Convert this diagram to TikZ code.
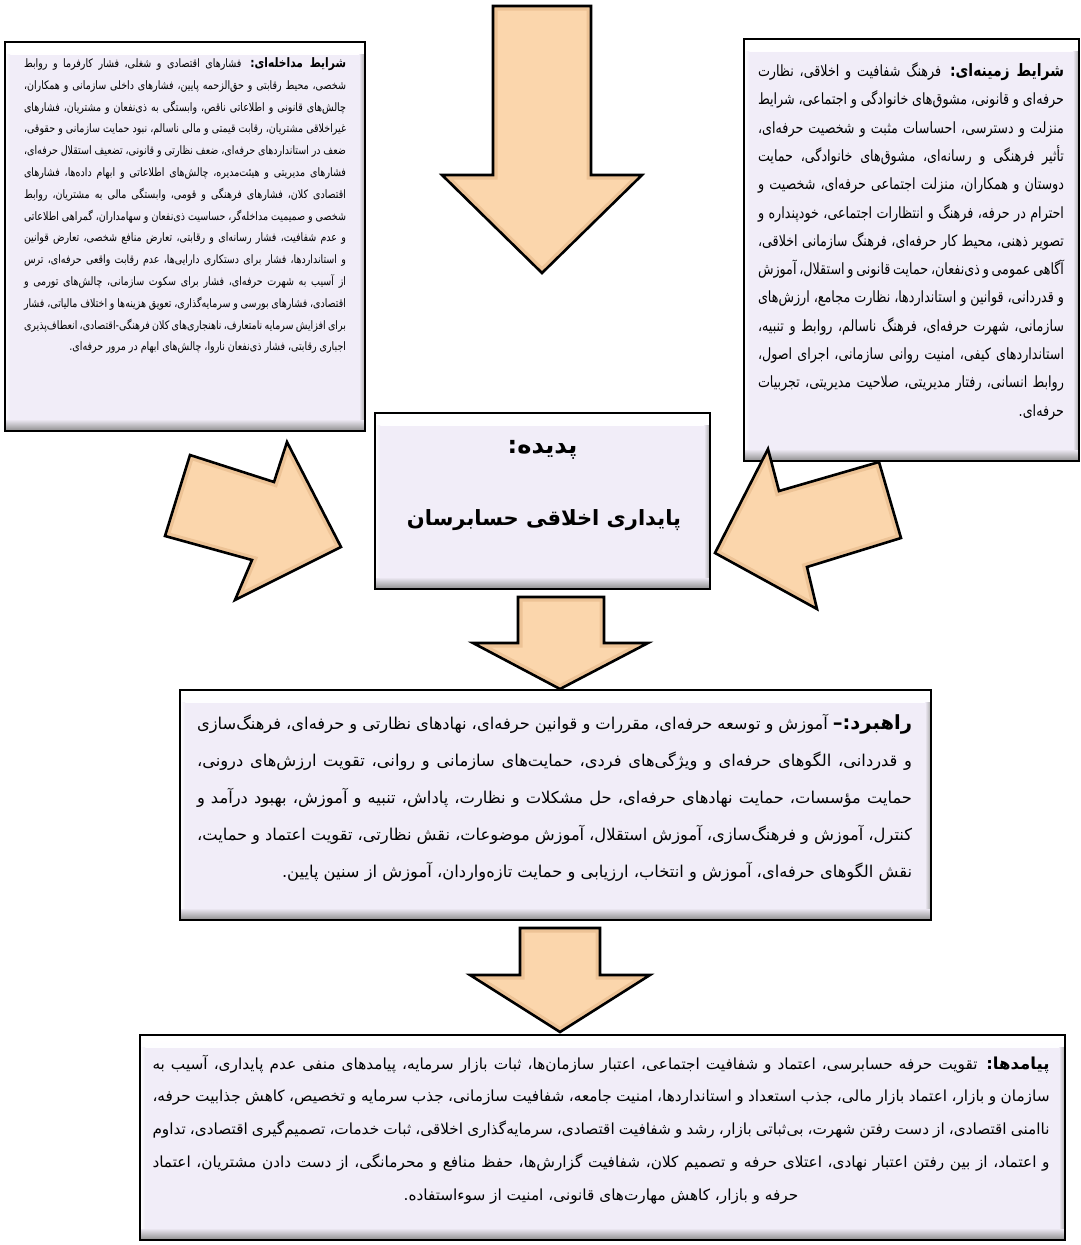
\documentclass[tikz,border=0pt]{standalone}
\usepackage{fontspec}
\newfontfamily\fa[Script=Arabic]{DejaVu Sans}
\newfontfamily\facomp[Script=Arabic, FakeStretch=0.82]{DejaVu Sans}
\TeXXeTstate=1
\definecolor{boxfill}{RGB}{241,237,248}
\definecolor{arrowfill}{RGB}{251,214,172}
\definecolor{arrowedge}{RGB}{226,180,132}
\newcommand\blockarrowpath[1]{%
  \fill[arrowfill] #1;
  \begin{scope}\clip #1; \draw[arrowedge, line width=9pt, opacity=0.55] #1; \end{scope}
  \draw[blockarrow] #1;}
\tikzset{
  panel/.style={draw=black, line width=2.8pt, fill=boxfill, inner sep=0pt, path picture={
      \fill[top color=white, bottom color=boxfill] (path picture bounding box.north west) rectangle ([yshift=-12pt]path picture bounding box.north east);
      \fill[top color=boxfill, bottom color=black!45] ([yshift=12pt]path picture bounding box.south west) rectangle (path picture bounding box.south east);
      \fill[left color=boxfill, right color=black!35] ([xshift=-6pt,yshift=-12pt]path picture bounding box.north east) rectangle ([yshift=12pt]path picture bounding box.south east);
      \fill[left color=white, right color=boxfill] ([yshift=-12pt]path picture bounding box.north west) rectangle ([xshift=5pt,yshift=12pt]path picture bounding box.south west);
  }},
  blockarrow/.style={draw=black, line width=2.6pt, line join=miter},
  body/.style={inner sep=0pt, align=justify, anchor=north}
}
\begin{document}
\begin{tikzpicture}[x=1pt, y=-1pt]
\useasboundingbox (0,0) rectangle (1081,1245);
% boxes
\node[panel, minimum width=360pt, minimum height=389pt] (leftbox) at (185,236.5) {};
\node[panel, minimum width=335pt, minimum height=422pt] (rightbox) at (911.5,250) {};
\node[panel, minimum width=335pt, minimum height=176pt] (centerbox) at (542.5,501) {};
\node[panel, minimum width=751pt, minimum height=230pt] (strategybox) at (555.5,805) {};
\node[panel, minimum width=925pt, minimum height=205pt] (outcomebox) at (602.5,1137.5) {};
% texts
\node[body, text width=322pt] (lefttext) at (185,57.5) {\facomp\fontsize{11.6}{21.8}\selectfont\leavevmode\beginR{\fontsize{13}{21.8}\selectfont\textbf{شرایط مداخله‌ای:}} فشارهای اقتصادی و شغلی، فشار کارفرما و روابط شخصی، محیط رقابتی و حق‌الزحمه پایین، فشارهای داخلی سازمانی و همکاران، چالش‌های قانونی و اطلاعاتی ناقص، وابستگی به ذی‌نفعان و مشتریان، فشارهای غیراخلاقی مشتریان، رقابت قیمتی و مالی ناسالم، نبود حمایت سازمانی و حقوقی، ضعف در استانداردهای حرفه‌ای، ضعف نظارتی و قانونی، تضعیف استقلال حرفه‌ای، فشارهای مدیریتی و هیئت‌مدیره، چالش‌های اطلاعاتی و ابهام داده‌ها، فشارهای اقتصادی کلان، فشارهای فرهنگی و قومی، وابستگی مالی به مشتریان، روابط شخصی و صمیمیت مداخله‌گر، حساسیت ذی‌نفعان و سهامداران، گمراهی اطلاعاتی و عدم شفافیت، فشار رسانه‌ای و رقابتی، تعارض منافع شخصی، تعارض قوانین و استانداردها، فشار برای دستکاری دارایی‌ها، عدم رقابت واقعی حرفه‌ای، ترس از آسیب به شهرت حرفه‌ای، فشار برای سکوت سازمانی، چالش‌های تورمی و اقتصادی، فشارهای بورسی و سرمایه‌گذاری، تعویق هزینه‌ها و اختلاف مالیاتی، فشار برای افزایش سرمایه نامتعارف، ناهنجاری‌های کلان فرهنگی-اقتصادی، انعطاف‌پذیری اجباری رقابتی، فشار ذی‌نفعان ناروا، چالش‌های ابهام در مرور حرفه‌ای.\par};
\node[body, text width=306pt] (righttext) at (911,62.5) {\facomp\fontsize{15.5}{28.3}\selectfont\leavevmode\beginR{\fontsize{17}{28.3}\selectfont\textbf{شرایط زمینه‌ای:}} فرهنگ شفافیت و اخلاقی، نظارت حرفه‌ای و قانونی، مشوق‌های خانوادگی و اجتماعی، شرایط منزلت و دسترسی، احساسات مثبت و شخصیت حرفه‌ای، تأثیر فرهنگی و رسانه‌ای، مشوق‌های خانوادگی، حمایت دوستان و همکاران، منزلت اجتماعی حرفه‌ای، شخصیت و احترام در حرفه، فرهنگ و انتظارات اجتماعی، خودپنداره و تصویر ذهنی، محیط کار حرفه‌ای، فرهنگ سازمانی اخلاقی، آگاهی عمومی و ذی‌نفعان، حمایت قانونی و استقلال، آموزش و قدردانی، قوانین و استانداردها، نظارت مجامع، ارزش‌های سازمانی، شهرت حرفه‌ای، فرهنگ ناسالم، روابط و تنبیه، استانداردهای کیفی، امنیت روانی سازمانی، اجرای اصول، روابط انسانی، رفتار مدیریتی، صلاحیت مدیریتی، تجربیات حرفه‌ای.\par};
\node[font={\fa\bfseries\fontsize{24}{28}\selectfont}] (phtitle) at (542.5,450) {\beginR پدیده:\endR};
\node[font={\fa\bfseries\fontsize{21}{26}\selectfont}] (phname) at (544,520) {\beginR پایداری اخلاقی حسابرسان\endR};
\node[body, text width=715pt] (strategytext) at (554.5,713.5) {\fa\fontsize{16.3}{37}\selectfont\leavevmode\beginR{\fontsize{19.5}{37}\selectfont\textbf{راهبرد:–}} آموزش و توسعه حرفه‌ای، مقررات و قوانین حرفه‌ای، نهادهای نظارتی و حرفه‌ای، فرهنگ‌سازی و قدردانی، الگوهای حرفه‌ای و ویژگی‌های فردی، حمایت‌های سازمانی و روانی، تقویت ارزش‌های درونی، حمایت مؤسسات، حمایت نهادهای حرفه‌ای، حل مشکلات و نظارت، پاداش، تنبیه و آموزش، بهبود درآمد و کنترل، آموزش و فرهنگ‌سازی، آموزش استقلال، آموزش موضوعات، نقش نظارتی، تقویت اعتماد و حمایت، نقش الگوهای حرفه‌ای، آموزش و انتخاب، ارزیابی و حمایت تازه‌واردان، آموزش از سنین پایین.\par};
\node[body, text width=897pt] (outcometext) at (601,1054.5) {\fa\fontsize{15.3}{32.75}\selectfont\leftskip=0pt plus 1fil\rightskip=0pt plus -1fil\parfillskip=0pt plus 2fil\leavevmode\beginR{\fontsize{16.5}{32.75}\selectfont\textbf{پیامدها:}} تقویت حرفه حسابرسی، اعتماد و شفافیت اجتماعی، اعتبار سازمان‌ها، ثبات بازار سرمایه، پیامدهای منفی عدم پایداری، آسیب به سازمان و بازار، اعتماد بازار مالی، جذب استعداد و استانداردها، امنیت جامعه، شفافیت سازمانی، جذب سرمایه و تخصیص، کاهش جذابیت حرفه، ناامنی اقتصادی، از دست رفتن شهرت، بی‌ثباتی بازار، رشد و شفافیت اقتصادی، سرمایه‌گذاری اخلاقی، ثبات خدمات، تصمیم‌گیری اقتصادی، تداوم و اعتماد، از بین رفتن اعتبار نهادی، اعتلای حرفه و تصمیم کلان، شفافیت گزارش‌ها، حفظ منافع و محرمانگی، از دست دادن مشتریان، اعتماد حرفه و بازار، کاهش مهارت‌های قانونی، امنیت از سوءاستفاده.\endR\par};
% block arrows
\blockarrowpath{(493,6) -- (591,6) -- (591,175) -- (642,175) -- (542,273) -- (442,175) -- (493,175) -- cycle}
\blockarrowpath{(190,455) -- (274,482) -- (287,442) -- (341,547) -- (235,600) -- (252,560) -- (165,536) -- cycle}
\blockarrowpath{(879,462) -- (779,491) -- (768,449) -- (715,553) -- (817,609) -- (807,567) -- (901,538) -- cycle}
\blockarrowpath{(518,597) -- (604,597) -- (604,643) -- (648,643) -- (560,689) -- (473,643) -- (518,643) -- cycle}
\blockarrowpath{(520,928) -- (600,928) -- (600,975) -- (650,975) -- (560,1032) -- (470,975) -- (520,975) -- cycle}
\end{tikzpicture}
\end{document}
